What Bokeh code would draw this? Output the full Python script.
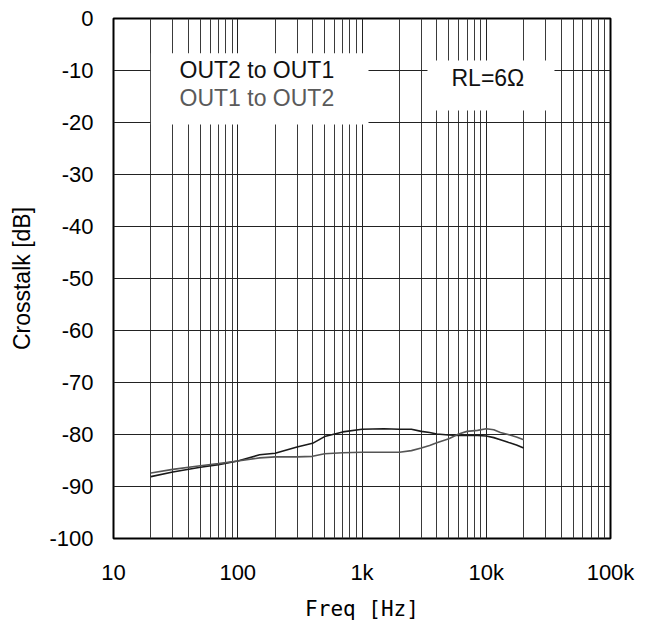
from bokeh.plotting import figure
from bokeh.models import FixedTicker, Label, BoxAnnotation, Range1d
from bokeh.embed import file_html
from bokeh.resources import INLINE

# ---- data ----
freq = [20, 30, 50, 70, 100, 150, 200, 300, 400, 500, 700, 1000, 1500, 2000,
        2500, 3000, 3500, 4000, 5000, 6000, 7000, 8500, 10000, 11500, 13000,
        15000, 17500, 20000]
out2_to_out1 = [-88.1, -87.2, -86.3, -85.8, -85.1, -83.9, -83.6, -82.4, -81.7,
                -80.4, -79.5, -79.0, -78.9, -79.0, -79.0, -79.4, -79.6, -79.9,
                -80.1, -80.2, -80.2, -80.2, -80.3, -80.6, -81.0, -81.5, -82.0,
                -82.6]
out1_to_out2 = [-87.4, -86.7, -86.0, -85.6, -85.1, -84.5, -84.3, -84.3, -84.2,
                -83.7, -83.5, -83.4, -83.4, -83.4, -83.1, -82.6, -82.1, -81.6,
                -80.8, -79.9, -79.4, -79.2, -78.9, -79.1, -79.6, -80.0, -80.5,
                -81.0]
x_ticks = [10, 100, 1000, 10000, 100000]
x_tick_labels = ["10", "100", "1k", "10k", "100k"]
x_minor = [m * d for d in [10, 100, 1000, 10000] for m in range(2, 10)]
y_ticks = list(range(-100, 1, 10))
y_tick_labels = [str(v) for v in y_ticks]

p = figure(width=650, height=625, x_axis_type="log",
           x_range=Range1d(10, 100000), y_range=Range1d(-100, 0),
           output_backend="svg", toolbar_location=None,
           min_border_left=113, min_border_right=40,
           min_border_top=18, min_border_bottom=87)
p.background_fill_color = "white"
p.border_fill_color = "white"
p.outline_line_color = "black"
p.outline_line_width = 2

# axes
p.xaxis.ticker = FixedTicker(ticks=x_ticks, minor_ticks=x_minor)
p.xaxis.major_label_overrides = {t: l for t, l in zip(x_ticks, x_tick_labels)}
p.yaxis.ticker = FixedTicker(ticks=y_ticks)
p.yaxis.major_label_overrides = {t: l for t, l in zip(y_ticks, y_tick_labels)}
for ax in (p.xaxis, p.yaxis):
    ax.axis_line_color = None
    ax.major_tick_line_color = None
    ax.minor_tick_line_color = None
    ax.major_tick_out = 0
    ax.major_tick_in = 0
    ax.major_label_text_font = "Liberation Sans"
    ax.major_label_text_font_size = "22px"
    ax.major_label_text_color = "black"
    ax.axis_label_text_font_style = "normal"
    ax.axis_label_text_color = "black"

p.xaxis.major_label_standoff = 17
p.yaxis.major_label_standoff = 20
p.xaxis.axis_label = "Freq [Hz]"
p.xaxis.axis_label_text_font = "DejaVu Sans Mono"
p.xaxis.axis_label_text_font_size = "21px"
p.xaxis.axis_label_standoff = 9
p.yaxis.axis_label = "Crosstalk [dB]"
p.yaxis.axis_label_text_font = "Liberation Sans"
p.yaxis.axis_label_text_font_size = "23px"
p.yaxis.axis_label_standoff = 11

# grid
p.xgrid.grid_line_color = "#222222"
p.xgrid.grid_line_width = 1
p.xgrid.minor_grid_line_color = "#3a3a3a"
p.xgrid.minor_grid_line_width = 1
p.ygrid.grid_line_color = "#222222"
p.ygrid.grid_line_width = 1

# curves
p.line(freq, out2_to_out1, line_color="#1a1a1a", line_width=1.6)
p.line(freq, out1_to_out2, line_color="#555555", line_width=1.6)

# legend-like boxes and texts
p.add_layout(BoxAnnotation(left=20, right=1128, top=-6.7, bottom=-20.4,
                           fill_color="white", fill_alpha=1, line_color=None))
p.add_layout(BoxAnnotation(left=3365, right=35400, top=-8.1, bottom=-17.7,
                           fill_color="white", fill_alpha=1, line_color=None))
p.add_layout(Label(x=34, y=-9.9, text="OUT2 to OUT1", text_baseline="middle",
                   text_align="left", text_font="Liberation Sans",
                   text_font_size="23px", text_color="#111111"))
p.add_layout(Label(x=34, y=-15.2, text="OUT1 to OUT2", text_baseline="middle",
                   text_align="left", text_font="Liberation Sans",
                   text_font_size="23px", text_color="#5a5a5a"))
p.add_layout(Label(x=5250, y=-11.4, text="RL=6Ω", text_baseline="middle",
                   text_align="left", text_font="Liberation Sans",
                   text_font_size="23px", text_color="#111111"))

open("out.html", "w").write(file_html(p, INLINE))
